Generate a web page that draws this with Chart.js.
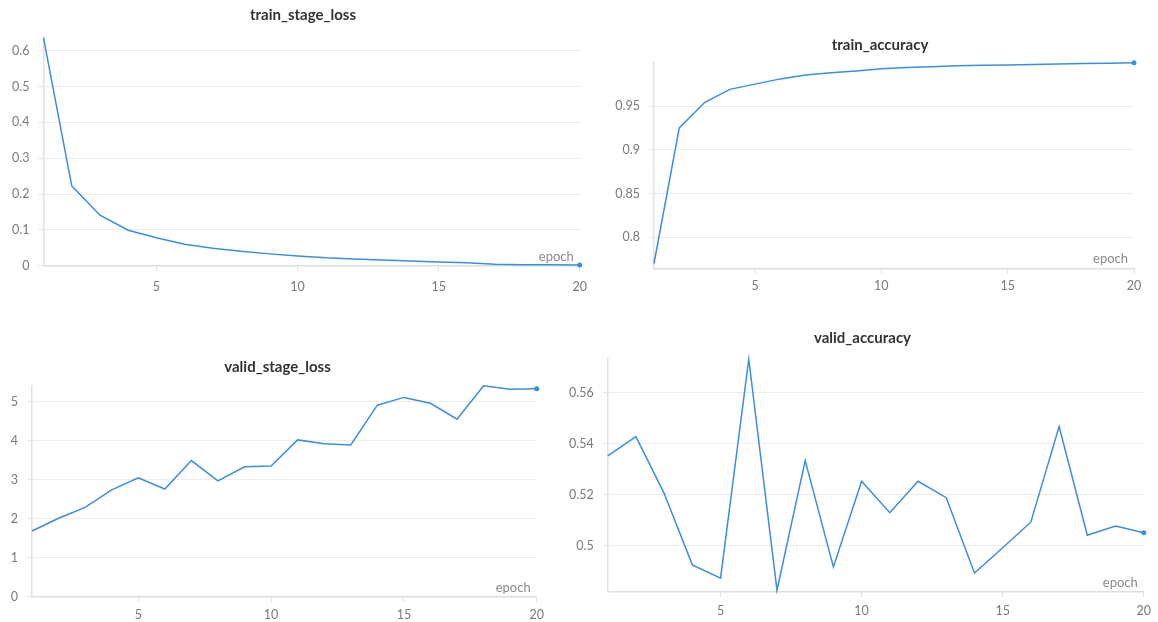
<!DOCTYPE html>
<html>
<head>
<meta charset="utf-8">
<title>Training metrics</title>
<script src="https://cdn.jsdelivr.net/npm/chart.js@4/dist/chart.umd.min.js"></script>
<style>
  html, body { margin: 0; padding: 0; background: #ffffff; }
  body { width: 1158px; height: 622px; position: relative; overflow: hidden; }
  .panel { position: absolute; }
</style>
</head>
<body>
<div class="panel" style="left:0px;top:0px;width:596px;height:310px"><canvas id="trainLossChart"></canvas></div>
<div class="panel" style="left:596px;top:0px;width:562px;height:310px"><canvas id="trainAccChart"></canvas></div>
<div class="panel" style="left:0px;top:310px;width:560px;height:312px"><canvas id="validLossChart"></canvas></div>
<div class="panel" style="left:560px;top:310px;width:598px;height:312px"><canvas id="validAccChart"></canvas></div>
<script>
// Per-epoch metrics
const epochs = [1, 2, 3, 4, 5, 6, 7, 8, 9, 10, 11, 12, 13, 14, 15, 16, 17, 18, 19, 20];
const trainStageLoss = [0.636, 0.223, 0.141, 0.099, 0.078, 0.060, 0.049, 0.040, 0.033, 0.027,
                        0.022, 0.019, 0.016, 0.013, 0.010, 0.008, 0.004, 0.003, 0.003, 0.002];
const trainAccuracy = [0.770, 0.925, 0.954, 0.969, 0.975, 0.981, 0.9855, 0.988, 0.990, 0.9925,
                       0.994, 0.995, 0.996, 0.9965, 0.997, 0.9975, 0.998, 0.9985, 0.999, 0.9995];
const validStageLoss = [1.685, 2.01, 2.29, 2.74, 3.05, 2.76, 3.49, 2.97, 3.33, 3.35,
                        4.02, 3.92, 3.89, 4.91, 5.11, 4.96, 4.55, 5.41, 5.32, 5.33];
const validAccuracy = [0.5353, 0.5428, 0.5206, 0.4926, 0.4874, 0.5731, 0.4827, 0.5334, 0.4918, 0.5253,
                       0.5130, 0.5253, 0.5189, 0.4894, 0.4993, 0.5094, 0.5467, 0.5042, 0.5078, 0.5052];

// Axis tick labels
const epochTicks = [5, 10, 15, 20];
const trainLossTicks = [0, 0.1, 0.2, 0.3, 0.4, 0.5, 0.6];
const trainAccTicks = [0.8, 0.85, 0.9, 0.95];
const validLossTicks = [0, 1, 2, 3, 4, 5];
const validAccTicks = [0.5, 0.52, 0.54, 0.56];

const LINE_COLOR = '#3a8ee0';
const FONT_FAMILY = 'Lato, "Open Sans", sans-serif';

Chart.defaults.font.family = FONT_FAMILY;
Chart.defaults.font.size = 12.5;
Chart.defaults.color = '#7a7a7a';

// Panel title above each plot and the "epoch" tag in the lower right corner
const panelText = {
  id: 'panelText',
  afterDraw(chart, args, opts) {
    const { ctx, chartArea } = chart;
    ctx.save();
    ctx.font = 'bold 15px ' + FONT_FAMILY;
    ctx.fillStyle = '#333333';
    ctx.textAlign = 'center';
    ctx.textBaseline = 'middle';
    ctx.fillText(opts.title, opts.titleX, opts.titleY);
    ctx.font = '13px ' + FONT_FAMILY;
    ctx.fillStyle = '#8a8a8a';
    ctx.textAlign = 'right';
    ctx.fillText('epoch', chartArea.right - 6, chartArea.bottom - 9);
    ctx.restore();
  }
};

function makePanel(canvasId, box, area, title, titlePos, values, yTicks, yMin, yMax, xPad) {
  const points = epochs.map((e, i) => ({ x: e, y: values[i] }));
  const last = points.length - 1;
  // The axes take all the room left of and below the plot area
  const yAxisWidth = area.left - box.left;
  const xAxisHeight = box.top + box.height - area.bottom;
  const padding = {
    left: 0,
    right: box.left + box.width - area.right,
    top: area.top - box.top,
    bottom: 0
  };
  return new Chart(document.getElementById(canvasId), {
    type: 'line',
    data: {
      datasets: [{
        data: points,
        borderColor: LINE_COLOR,
        backgroundColor: LINE_COLOR,
        borderWidth: 1.5,
        tension: 0,
        clip: false,
        pointRadius: (c) => (c.dataIndex === last ? 2.5 : 0),
        pointHoverRadius: 0,
        pointBorderWidth: 0,
        pointBackgroundColor: LINE_COLOR
      }]
    },
    options: {
      responsive: true,
      maintainAspectRatio: false,
      animation: false,
      events: [],
      layout: { padding },
      plugins: {
        legend: { display: false },
        tooltip: { enabled: false },
        title: { display: false },
        panelText: { title, titleX: titlePos.x - box.left, titleY: titlePos.y - box.top }
      },
      scales: {
        x: {
          type: 'linear',
          min: 1,
          max: 20,
          afterBuildTicks: (s) => { s.ticks = epochTicks.map(v => ({ value: v })); },
          afterFit: (s) => { s.height = xAxisHeight; },
          ticks: { padding: xPad, maxRotation: 0, callback: (v) => String(v) },
          grid: { drawOnChartArea: false, tickLength: 5, color: '#dddddd', lineWidth: 1 },
          border: { color: '#dddddd', width: 1.5 }
        },
        y: {
          type: 'linear',
          min: yMin,
          max: yMax,
          afterBuildTicks: (s) => { s.ticks = yTicks.map(v => ({ value: v })); },
          afterFit: (s) => { s.width = yAxisWidth; },
          ticks: { padding: 9, callback: (v) => String(v) },
          grid: { color: '#ededed', tickColor: '#e6e6e6', tickLength: 5, lineWidth: 1 },
          border: { color: '#e0e0e0', width: 1.5 }
        }
      }
    },
    plugins: [panelText]
  });
}

makePanel('trainLossChart',
  { left: 0, top: 0, width: 596, height: 310 },
  { left: 43.5, right: 586, top: 36.4, bottom: 265.7 },
  'train_stage_loss', { x: 303, y: 15 },
  trainStageLoss, trainLossTicks, 0, 0.64, 9);

makePanel('trainAccChart',
  { left: 596, top: 0, width: 562, height: 310 },
  { left: 654, right: 1134, top: 62.7, bottom: 268.3 },
  'train_accuracy', { x: 880, y: 45 },
  trainAccuracy, trainAccTicks, 0.7645, 0.9995, 5);

makePanel('validLossChart',
  { left: 0, top: 310, width: 560, height: 312 },
  { left: 32, right: 536.7, top: 385.7, bottom: 596.7 },
  'valid_stage_loss', { x: 277.5, y: 367 },
  validStageLoss, validLossTicks, 0, 5.41, 6);

makePanel('validAccChart',
  { left: 560, top: 310, width: 598, height: 312 },
  { left: 607.7, right: 1148.7, top: 359.2, bottom: 591.7 },
  'valid_accuracy', { x: 862.5, y: 338 },
  validAccuracy, validAccTicks, 0.4821, 0.5731, 7);
</script>
</body>
</html>
